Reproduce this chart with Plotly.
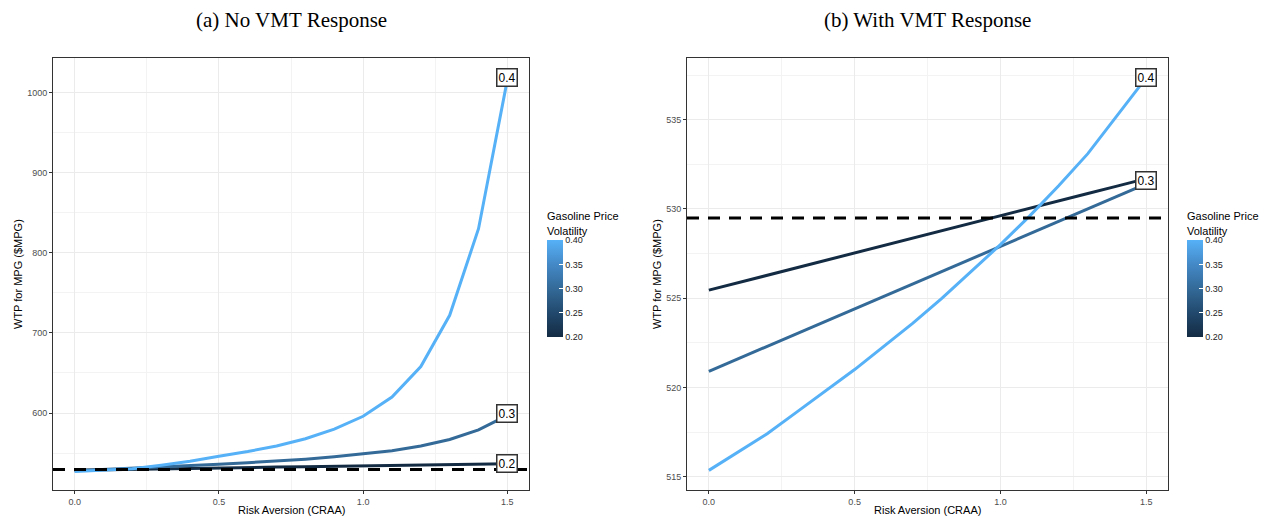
import plotly.graph_objects as go

# ---------------- data ----------------
craa = [0.0, 0.1, 0.2, 0.3, 0.4, 0.5, 0.6, 0.7, 0.8, 0.9, 1.0, 1.1, 1.2, 1.3, 1.4, 1.5]

# (a) No VMT response
no_vmt_02 = [528.5, 529.2, 529.8, 530.4, 531.0, 531.6, 532.1, 532.6, 533.1, 533.6, 534.1, 534.6, 535.1, 535.6, 536.2, 536.8]
no_vmt_03 = [528.0, 529.5, 531.0, 532.5, 534.0, 536.0, 538.0, 540.0, 542.5, 545.5, 549.0, 553.0, 559.0, 567.0, 579.0, 597.0]
no_vmt_04 = [527.0, 528.5, 530.5, 535.0, 540.0, 546.0, 552.0, 559.0, 568.0, 580.0, 596.0, 620.0, 658.0, 722.0, 830.0, 1016.0]

# (b) With VMT response
vmt_02 = [525.45, 525.87, 526.28, 526.70, 527.12, 527.53, 527.95, 528.37, 528.78, 529.20, 529.62, 530.03, 530.45, 530.87, 531.28, 531.70]
vmt_03 = [520.9, 521.6, 522.3, 523.0, 523.7, 524.4, 525.1, 525.8, 526.5, 527.2, 527.9, 528.6, 529.3, 530.0, 530.7, 531.4]
vmt_04 = [515.35, 516.4, 517.4, 518.6, 519.8, 521.0, 522.3, 523.6, 525.0, 526.5, 528.0, 529.6, 531.3, 533.1, 535.2, 537.35]

volatility = [0.2, 0.3, 0.4]
volatility_labels = ["0.2", "0.3", "0.4"]
baseline_wtp = 529.5

panel_titles = ["(a) No VMT Response", "(b) With VMT Response"]
x_title = "Risk Aversion (CRAA)"
y_title = "WTP for MPG ($MPG)"
legend_title = "Gasoline Price<br>Volatility"

# ---------------- style ----------------
colors = {0.2: "#132B43", 0.3: "#336A98", 0.4: "#56B1F7"}
cscale = [[0.0, "#132B43"], [0.25, "#22496D"], [0.5, "#336A98"], [0.75, "#4489C7"], [1.0, "#56B1F7"]]
PAGE_W, PAGE_H = 1274, 525
OFF = 8  # default body margin of the html page
W, H = PAGE_W - 2 * OFF, PAGE_H - 2 * OFF
SANS = "Liberation Sans, Arial, sans-serif"
SERIF = "Liberation Serif, Times New Roman, serif"

def px(x):  # page x pixel -> paper fraction
    return (x - OFF) / W

def py(y):  # page y pixel -> paper fraction
    return (H - (y - OFF)) / H

left_dom = [px(53), px(529)]
right_dom = [px(687), px(1168)]
y_dom = [py(490), py(58)]

fig = go.Figure()

panels = [
    ("x", "y", [no_vmt_02, no_vmt_03, no_vmt_04], "coloraxis"),
    ("x2", "y2", [vmt_02, vmt_03, vmt_04], "coloraxis2"),
]
for xa, ya, series, cax in panels:
    for v, vals in zip(volatility, series):
        fig.add_trace(go.Scatter(
            x=craa, y=vals, mode="lines", xaxis=xa, yaxis=ya,
            line=dict(color=colors[v], width=3), showlegend=False, hoverinfo="skip"))
    # invisible trace carrying the colour scale
    fig.add_trace(go.Scatter(
        x=[craa[0]] * 3, y=[series[0][0]] * 3, mode="markers", xaxis=xa, yaxis=ya,
        marker=dict(color=volatility, coloraxis=cax, size=0.1, opacity=0),
        showlegend=False, hoverinfo="skip"))

# dashed baseline
for xref, yref in [("x domain", "y"), ("x2 domain", "y2")]:
    fig.add_shape(type="line", xref=xref, yref=yref, x0=0, x1=1,
                  y0=baseline_wtp, y1=baseline_wtp,
                  line=dict(color="black", width=3, dash="12px,9px"))

# end labels
label_font = dict(family=SANS, size=12, color="black")
def end_label(xref, yref, x, y, text):
    fig.add_annotation(x=x, y=y, xref=xref, yref=yref, text=text, showarrow=False,
                       font=label_font, bgcolor="white", bordercolor="#333333",
                       borderwidth=1.5, borderpad=1)

end_label("x", "y", craa[-1], no_vmt_04[-1] + 3, volatility_labels[2])
end_label("x", "y", craa[-1], no_vmt_03[-1] + 3, volatility_labels[1])
end_label("x", "y", craa[-1], no_vmt_02[-1], volatility_labels[0])
end_label("x2", "y2", craa[-1], vmt_04[-1], volatility_labels[2])
end_label("x2", "y2", craa[-1], vmt_03[-1] + 0.2, volatility_labels[1])

# panel titles
for dom, t in zip([left_dom, right_dom], panel_titles):
    fig.add_annotation(x=(dom[0] + dom[1]) / 2, y=py(20), xref="paper", yref="paper",
                       text=t, showarrow=False, xanchor="center", yanchor="middle",
                       font=dict(family=SERIF, size=21, color="black"))

# axis titles as annotations (exact placement)
title_font = dict(family=SANS, size=11, color="black")
for dom in [left_dom, right_dom]:
    fig.add_annotation(x=(dom[0] + dom[1]) / 2, y=py(510), xref="paper", yref="paper",
                       text=x_title, showarrow=False, xanchor="center", yanchor="middle",
                       font=title_font)
for xpage in [18, 657]:
    fig.add_annotation(x=px(xpage), y=(y_dom[0] + y_dom[1]) / 2, xref="paper", yref="paper",
                       text=y_title, showarrow=False, textangle=-90,
                       xanchor="center", yanchor="middle", font=title_font)

axis_common = dict(
    showline=True, mirror=True, linecolor="#333333", linewidth=1,
    ticks="outside", ticklen=3, tickcolor="#333333", tickwidth=1,
    tickfont=dict(family=SANS, size=9, color="#4d4d4d"),
    showgrid=True, gridcolor="#ebebeb", gridwidth=1, zeroline=False,
    automargin=False,
)
minor_grid = dict(showgrid=True, gridcolor="#f3f3f3", gridwidth=0.6)

xrange = [-0.075, 1.575]
fig.update_layout(
    width=W, height=H, margin=dict(l=0, r=0, t=0, b=0, autoexpand=False),
    plot_bgcolor="white", paper_bgcolor="white",
    xaxis=dict(domain=left_dom, anchor="y", range=xrange, tick0=0, dtick=0.5, tickformat=".1f",
               minor=dict(dtick=0.25, tick0=0, **minor_grid), **axis_common),
    yaxis=dict(domain=y_dom, anchor="x", range=[504, 1043], tick0=0, dtick=100,
               minor=dict(dtick=50, tick0=0, **minor_grid), **axis_common),
    xaxis2=dict(domain=right_dom, anchor="y2", range=xrange, tick0=0, dtick=0.5, tickformat=".1f",
                minor=dict(dtick=0.25, tick0=0, **minor_grid), **axis_common),
    yaxis2=dict(domain=y_dom, anchor="x2", range=[514.25, 538.46], tick0=0, dtick=5,
                minor=dict(dtick=2.5, tick0=0, **minor_grid), **axis_common),
)

def cbar(xpage):
    return dict(
        colorscale=cscale, cmin=0.2, cmax=0.4,
        colorbar=dict(
            x=px(xpage), xanchor="left", xpad=0, ypad=0,
            y=py(209), yanchor="top",
            len=128, lenmode="pixels", thickness=16, thicknessmode="pixels",
            outlinewidth=0,
            tickvals=[0.2, 0.25, 0.3, 0.35, 0.4], ticktext=["0.20", "0.25", "0.30", "0.35", "0.40"],
            ticks="inside", ticklen=4, tickcolor="white", tickwidth=1,
            tickfont=dict(family=SANS, size=9, color="#222222"),
            title=dict(text=legend_title, side="top",
                       font=dict(family=SANS, size=11, color="black")),
        ),
    )

fig.update_layout(coloraxis=cbar(547), coloraxis2=cbar(1187))

fig.write_html("out.html")
